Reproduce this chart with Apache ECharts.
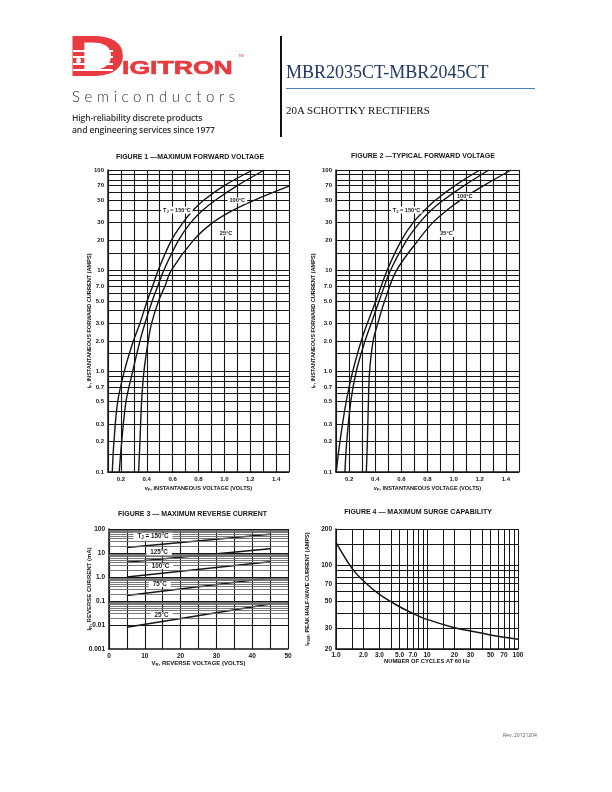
<!DOCTYPE html>
<html><head><meta charset="utf-8">
<script src="https://cdn.jsdelivr.net/npm/echarts@6/dist/echarts.min.js"></script>
<style>
html,body{margin:0;padding:0;background:#fff;}
#page{position:relative;width:612px;height:792px;overflow:hidden;background:#fff;}
#chart{position:absolute;left:0;top:0;width:612px;height:792px;}
.t{position:absolute;white-space:nowrap;}
</style></head><body>
<div id="page">
<div id="chart"></div>
<div class="t" style="left:66.8px;top:27.6px;font:bold 57px/1 'Liberation Sans',Arial,sans-serif;color:#e83a3f;transform:scaleX(1.44);transform-origin:0 0;">D</div>
<div style="position:absolute;left:73px;top:50px;width:40px;height:1.6px;background:#fff;"></div>
<div style="position:absolute;left:73px;top:56px;width:40px;height:1.6px;background:#fff;"></div>
<div style="position:absolute;left:73px;top:63px;width:40px;height:1.6px;background:#fff;"></div>
<div style="position:absolute;left:73px;top:69px;width:40px;height:1.6px;background:#fff;"></div>
<div style="position:absolute;left:76px;top:57.5px;width:5px;height:5px;border-radius:50%;background:#fff;"></div>
<div class="t" style="left:122px;top:59.3px;font:bold 18.6px/1 'Liberation Sans',Arial,sans-serif;color:#e83a3f;-webkit-text-stroke:0.6px #e83a3f;transform:scaleX(1.43);transform-origin:0 0;">IGITRON</div>
<div class="t" style="left:238px;top:54px;font:4px/1 'Liberation Sans',Arial,sans-serif;color:#e83a3f;">TM</div>
<div class="t" style="left:72px;top:88.5px;font:300 15px/1 'Lato','Open Sans',sans-serif;color:#333;letter-spacing:4.6px;">Semiconductors</div>
<div class="t" style="left:72px;top:114px;font:600 8.6px/1 'Open Sans',sans-serif;color:#333;letter-spacing:-0.15px;">High-reliability discrete products</div>
<div class="t" style="left:72px;top:126px;font:600 8.6px/1 'Open Sans',sans-serif;color:#333;letter-spacing:-0.15px;">and engineering services since 1977</div>
<div style="position:absolute;left:280px;top:36px;width:1.5px;height:101px;background:#111;"></div>
<div class="t" style="left:286px;top:63.2px;font:18px/1 'Liberation Serif','DejaVu Serif',serif;color:#1f3864;">MBR2035CT-MBR2045CT</div>
<div style="position:absolute;left:286px;top:88px;width:249px;height:1px;background:#4f81bd;"></div>
<div class="t" style="left:286px;top:104.8px;font:11px/1 'Liberation Serif','DejaVu Serif',serif;color:#111;">20A SCHOTTKY RECTIFIERS</div>
<div class="t" style="left:503px;top:732.5px;font:5px/1 'Open Sans',sans-serif;color:#555;">Rev. 20121204</div>
</div>
<script>
// ---------- DATA ----------
// Figure 1 - maximum forward voltage (x: volts, y: amps)
const fig1Current = [0.1,0.2,0.5,1,2,3,5,7,10,20,30,40,50,70,100];
const fig1V150 = [0.133,0.146,0.175,0.226,0.296,0.347,0.403,0.445,0.487,0.59,0.68,0.76,0.84,1.0,1.22];
const fig1V100 = [0.187,0.206,0.239,0.291,0.347,0.386,0.442,0.485,0.53,0.645,0.74,0.835,0.93,1.1,1.31];
const fig1Current25 = [0.1,0.2,0.5,1,2,3,5,7,10,20,30,40,50,69];
const fig1V25 = [0.337,0.347,0.36,0.378,0.411,0.437,0.491,0.54,0.588,0.76,0.91,1.07,1.23,1.5];
// Figure 2 - typical forward voltage
const fig2Current = [0.1,0.2,0.5,1,2,3,5,10,20,30,40,50,70,100];
const fig2V150 = [0.102,0.13,0.178,0.228,0.293,0.34,0.405,0.49,0.6,0.69,0.78,0.86,1.01,1.2];
const fig2V100 = [0.168,0.182,0.213,0.255,0.322,0.37,0.43,0.516,0.64,0.74,0.83,0.92,1.08,1.27];
const fig2V25 = [0.332,0.34,0.348,0.357,0.384,0.42,0.472,0.562,0.728,0.84,0.95,1.05,1.23,1.44];
// Figure 3 - maximum reverse current (x: volts, y: mA)
const fig3Voltage = [5,45];
const fig3I150 = [17,60];
const fig3I125 = [4.1,15];
const fig3I100 = [1.0,4.3];
const fig3I75 = [0.17,0.9];
const fig3I25 = [0.008,0.075];
// Figure 4 - maximum surge capability
const fig4Cycles = [1,1.5,2,3,5,7,10,20,30,50,100];
const fig4Current = [155,94,74,57,45,39.6,35.3,30.1,28.3,26.2,24.1];

// Tick labels / grid lines
const fwdGridI = [0.1,0.15,0.2,0.3,0.4,0.5,0.6,0.7,0.8,0.9,1,1.5,2,3,4,5,6,7,8,9,10,15,20,30,40,50,60,70,80,90,100];
const fwdTickI = [0.1,0.2,0.3,0.5,0.7,1,2,3,5,7,10,20,30,50,70,100];
const fwdTickText = ['0.1','0.2','0.3','0.5','0.7','1.0','2.0','3.0','5.0','7.0','10','20','30','50','70','100'];
const voltTicks = [0.2,0.4,0.6,0.8,1.0,1.2,1.4];
const voltTickText = ['0.2','0.4','0.6','0.8','1.0','1.2','1.4'];
const revDecades = [0.001,0.01,0.1,1,10,100];
const revDecadeText = ['0.001','0.01','0.1','1.0','10','100'];
const revMantissa = [2,3,4,5,6,7,8,9];
const revVoltTicks = [0,10,20,30,40,50];
const revVoltText = ['0','10','20','30','40','50'];
const surgeGridX = [1,1.5,2,3,4,5,6,7,8,9,10,15,20,30,40,50,60,70,80,90,100];
const surgeTickX = [1,2,3,5,7,10,20,30,50,70,100];
const surgeTickXText = ['1.0','2.0','3.0','5.0','7.0','10','20','30','50','70','100'];
const surgeGridY = [20,30,40,50,60,70,80,90,100,150,200];
const surgeTickY = [20,30,50,70,100,200];
const surgeTickYText = ['20','30','50','70','100','200'];

// ---------- HELPERS ----------
const NF = "'Liberation Sans Narrow','Liberation Sans',Arial,sans-serif";
const SF = "'Liberation Sans',Arial,sans-serif";
const INK = '#161616';
function zip(xs, ys){ return xs.map((x,i)=>[x,ys[i]]); }
function tickFmt(vals, texts){
  return v => { const i = vals.findIndex(t => Math.abs(t - v) <= 1e-6 * Math.max(1e-3, Math.abs(t))); return i >= 0 ? texts[i] : ''; };
}
// axisMin: lines exactly on the axis minimum are nudged inward by a negligible amount (float rounding on log axes)
function markLines(axisKey, values, tickVals, tickTexts, styleFn, lbl, axisMin){
  return values.map(v => {
    const i = tickVals.findIndex(t => Math.abs(t - v) < 1e-9);
    const pos = (axisMin != null && Math.abs(v - axisMin) < 1e-12) ? v * (1 + 1e-6) : v;
    return {
      [axisKey]: pos,
      lineStyle: styleFn(v),
      label: i >= 0 ? Object.assign({show:true, formatter: tickTexts[i]}, lbl) : {show:false}
    };
  });
}
function gridSeries(idx, data){
  return {type:'line', xAxisIndex:idx, yAxisIndex:idx, data:[], silent:true, z:1,
    markLine:{silent:true, symbol:['none','none'], animation:false, data:data}};
}
function curve(idx, pts, w){
  return {type:'line', xAxisIndex:idx, yAxisIndex:idx, data:pts, smooth:0.35, symbol:'none',
    silent:true, z:3, lineStyle:{color:INK, width:w||1.4}};
}
const subRich = (fs) => ({a:{fontSize:fs, fontWeight:'bold', fontFamily:NF, color:INK},
                          s:{fontSize:fs*0.72, fontWeight:'bold', fontFamily:NF, color:INK, padding:[3,0,0,0]}});
function labelSeries(idx, items, fs){
  return {type:'line', xAxisIndex:idx, yAxisIndex:idx, data:[], silent:true, z:5,
    markPoint:{silent:true, symbol:'rect', symbolSize:1, itemStyle:{color:'rgba(0,0,0,0)'}, animation:false,
      data: items.map(it => ({coord: it.coord, label:{show:true, position:'inside', formatter: it.text,
        rich: subRich(fs), backgroundColor:'#fff', padding:it.pad || [0,2,0,2]}}))}};
}
const gridBlack = () => ({color:INK, width:1.1, type:'solid'});
const tickLblY = {position:'start', distance:4, fontSize:6, fontWeight:'bold', fontFamily:NF, color:INK};

// Build grid line data
const fwdLines = markLines('yAxis', fwdGridI, fwdTickI, fwdTickText, gridBlack, tickLblY, 0.1);
const revValues = [];
revDecades.forEach((d,k) => { revValues.push(d); if (k < revDecades.length-1) revMantissa.forEach(m => revValues.push(+(d*m).toPrecision(3))); });
const revLines = markLines('yAxis', revValues, [], [],
  v => revDecades.some(d => Math.abs(d - v) < 1e-12) ? {color:INK, width:1.2, type:'solid'} : {color:'#6a6a6a', width:0.9, type:'solid'},
  {}, 0.001);
const surgeXLines = markLines('xAxis', surgeGridX, surgeTickX, surgeTickXText, () => ({color:INK, width:1, type:'solid'}),
  {position:'start', distance:3, fontSize:6.5, fontWeight:'bold', fontFamily:NF, color:INK}, 1);
const surgeYLines = markLines('yAxis', surgeGridY, surgeTickY, surgeTickYText, () => ({color:INK, width:1, type:'solid'}),
  {position:'start', distance:4, fontSize:6.5, fontWeight:'bold', fontFamily:NF, color:INK}, 20);

const nameStyle = (fs) => ({fontSize:fs, fontWeight:'bold', fontFamily:NF, color:INK, rich: subRich(fs)});
const axisLineS = {show:true, lineStyle:{color:INK, width:1.5}};

function fwdX(idx){
  return {gridIndex:idx, type:'value', min:0.1, max:1.5, interval:0.1,
    axisLine:axisLineS, axisTick:{show:false},
    splitLine:{show:true, showMinLine:true, showMaxLine:true, lineStyle:{color:INK, width:1.1}},
    axisLabel:{formatter: tickFmt(voltTicks, voltTickText), fontSize:6, fontWeight:'bold', fontFamily:NF, color:INK, margin:4},
    name:'{a|v}{s|F}{a|, INSTANTANEOUS VOLTAGE (VOLTS)}', nameLocation:'middle', nameGap:13, nameMoveOverlap:false, nameTextStyle:nameStyle(5.6)};
}
function fwdY(idx, gap){
  return {gridIndex:idx, type:'log', logBase:10, min:0.1, max:100,
    axisLine:axisLineS, axisTick:{show:false}, axisLabel:{show:false}, splitLine:{show:false},
    name:'{a|i}{s|F}{a|, INSTANTANEOUS FORWARD CURRENT (AMPS)}', nameLocation:'middle', nameRotate:90, nameGap:gap,
    nameMoveOverlap:false, nameTextStyle:nameStyle(5.6)};
}

const option = {
  animation:false,
  backgroundColor:'transparent',
  textStyle:{fontFamily:NF},
  grid:[
    {left:108, top:170, width:181, height:302},
    {left:336, top:170, width:183, height:302},
    {left:109, top:529, width:179, height:120},
    {left:336, top:529, width:182, height:120}
  ],
  xAxis:[
    fwdX(0), fwdX(1),
    {gridIndex:2, type:'value', min:0, max:50, interval:5,
      axisLine:axisLineS, axisTick:{show:false},
      splitLine:{show:true, showMinLine:true, showMaxLine:true, lineStyle:{color:INK, width:1.1}},
      axisLabel:{formatter: tickFmt(revVoltTicks, revVoltText), fontSize:6.5, fontWeight:'bold', fontFamily:NF, color:INK, margin:4},
      name:'{a|V}{s|R}{a|, REVERSE VOLTAGE (VOLTS)}', nameLocation:'middle', nameGap:11, nameMoveOverlap:false, nameTextStyle:nameStyle(6)},
    {gridIndex:3, type:'log', logBase:10, min:1, max:100,
      axisLine:axisLineS, axisTick:{show:false}, axisLabel:{show:false}, splitLine:{show:false},
      name:'NUMBER OF CYCLES AT 60 Hz', nameLocation:'middle', nameGap:9, nameMoveOverlap:false, nameTextStyle:nameStyle(5.8)}
  ],
  yAxis:[
    fwdY(0, 15), fwdY(1, 19),
    {gridIndex:2, type:'log', logBase:10, min:0.001, max:100, splitNumber:5,
      axisLine:axisLineS, axisTick:{show:false}, splitLine:{show:false},
      axisLabel:{show:true, showMinLabel:true, showMaxLabel:true, formatter: tickFmt(revDecades, revDecadeText),
        fontSize:6.5, fontWeight:'bold', fontFamily:NF, color:INK, margin:4},
      name:'{a|I}{s|R}{a|, REVERSE CURRENT (mA)}', nameLocation:'middle', nameRotate:90, nameGap:16, nameMoveOverlap:false, nameTextStyle:nameStyle(6)},
    {gridIndex:3, type:'log', logBase:10, min:20, max:200,
      axisLine:axisLineS, axisTick:{show:false}, axisLabel:{show:false}, splitLine:{show:false},
      name:'{a|I}{s|FSM}{a|, PEAK HALF-WAVE CURRENT (AMPS)}', nameLocation:'middle', nameRotate:90, nameGap:25, nameMoveOverlap:false, nameTextStyle:nameStyle(5.6)}
  ],
  graphic:[
    {type:'text', x:190, y:156.7, style:{text:'FIGURE 1 —MAXIMUM FORWARD VOLTAGE', font:"bold 7px "+SF, fill:INK, align:'center', verticalAlign:'middle'}},
    {type:'text', x:423, y:155.7, style:{text:'FIGURE 2 —TYPICAL FORWARD VOLTAGE', font:"bold 7px "+SF, fill:INK, align:'center', verticalAlign:'middle'}},
    {type:'text', x:192.5, y:514.3, style:{text:'FIGURE 3 — MAXIMUM REVERSE CURRENT', font:"bold 7px "+SF, fill:INK, align:'center', verticalAlign:'middle'}},
    {type:'text', x:418, y:512.3, style:{text:'FIGURE 4 — MAXIMUM SURGE CAPABILITY', font:"bold 7px "+SF, fill:INK, align:'center', verticalAlign:'middle'}}
  ],
  series:[
    gridSeries(0, fwdLines),
    curve(0, zip(fig1V150, fig1Current)),
    curve(0, zip(fig1V100, fig1Current)),
    curve(0, zip(fig1V25, fig1Current25)),
    labelSeries(0, [
      {coord:[0.633,40], text:'{a|T}{s|J}{a| = 150°C}'},
      {coord:[1.1,50], text:'{a|100°C}'},
      {coord:[1.013,23.6], text:'{a|25°C}'}
    ], 5.6),
    gridSeries(1, fwdLines),
    curve(1, zip(fig2V150, fig2Current)),
    curve(1, zip(fig2V100, fig2Current)),
    curve(1, zip(fig2V25, fig2Current)),
    labelSeries(1, [
      {coord:[0.64,40], text:'{a|T}{s|J}{a| = 150°C}'},
      {coord:[1.085,55], text:'{a|100°C}'},
      {coord:[0.945,23.2], text:'{a|25°C}'}
    ], 5.6),
    gridSeries(2, revLines),
    curve(2, zip(fig3Voltage, fig3I150), 1.5),
    curve(2, zip(fig3Voltage, fig3I125), 1.5),
    curve(2, zip(fig3Voltage, fig3I100), 1.5),
    curve(2, zip(fig3Voltage, fig3I75), 1.5),
    curve(2, zip(fig3Voltage, fig3I25), 1.5),
    labelSeries(2, [
      {coord:[12.3,48], text:'{a|T}{s|J}{a| = 150°C}', pad:[0,4,0,4]},
      {coord:[14,10.7], text:'{a|125°C}', pad:[0,4,0,4]},
      {coord:[14.4,2.87], text:'{a|100°C}', pad:[0,4,0,4]},
      {coord:[14.2,0.51], text:'{a|75°C}', pad:[0,4,0,4]},
      {coord:[14.7,0.026], text:'{a|25°C}', pad:[0,4,0,4]}
    ], 6.3),
    gridSeries(3, surgeXLines.concat(surgeYLines)),
    curve(3, zip(fig4Cycles, fig4Current), 1.5)
  ]
};
const chart = echarts.init(document.getElementById('chart'), null, {renderer:'canvas', width:612, height:792});
chart.setOption(option);
</script>
</body></html>
